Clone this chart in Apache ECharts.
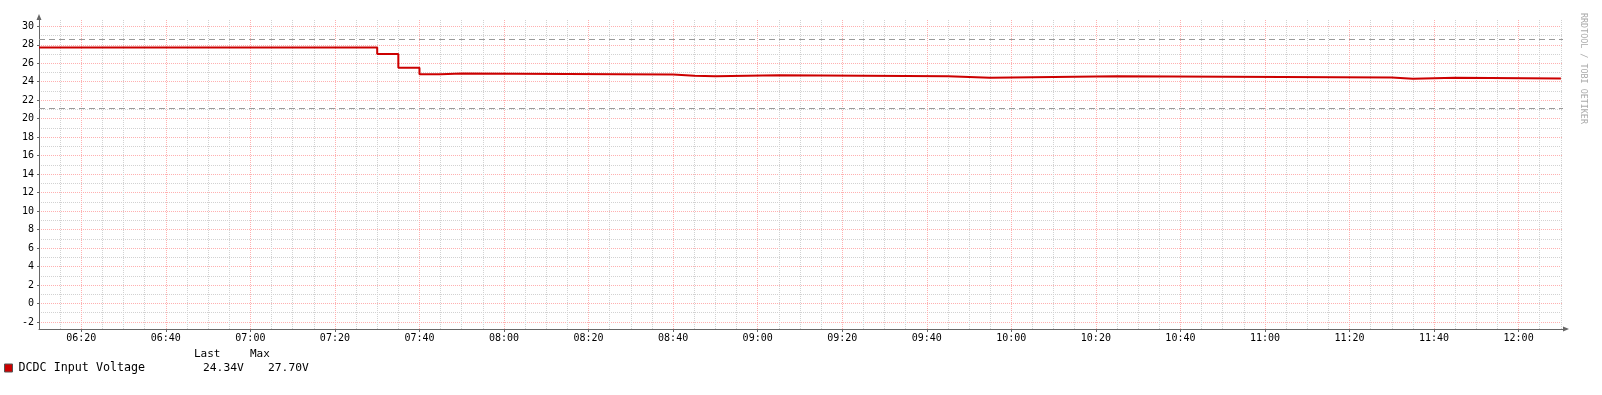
<!DOCTYPE html>
<html><head><meta charset="utf-8">
<script src="https://cdn.jsdelivr.net/npm/echarts@6/dist/echarts.min.js"></script>
<style>html,body{margin:0;padding:0;background:#fff}#c{width:1602px;height:395px}</style>
</head><body><div id="c"></div>
<script>
// ---- data ----
const seriesName = 'DCDC Input Voltage';
const stepTimes  = ['06:10','07:30','07:35','07:40','07:45','07:50','08:40','08:45','08:50','09:05','09:45','09:55','10:25','11:30','11:35','11:45','12:10'];
const stepValues = [27.70, 27.00, 25.50, 24.80, 24.88, 24.78, 24.65, 24.58, 24.69, 24.58, 24.43, 24.58, 24.45, 24.32, 24.43, 24.34, 24.34];
const thresholds = [28.6, 21.1];
const yTickLabels = [-2,0,2,4,6,8,10,12,14,16,18,20,22,24,26,28,30];
const xTickLabels = ['06:20','06:40','07:00','07:20','07:40','08:00','08:20','08:40','09:00','09:20','09:40','10:00','10:20','10:40','11:00','11:20','11:40','12:00'];
const xRange = ['06:10','12:10:30'];
const yRange = [-2.76, 30.68];
const legendHeads = ['Last','Max'];
const creditText = 'RRDTOOL / TOBI OETIKER';

// ---- helpers ----
function toMin(s){const p=s.split(':').map(Number);return p[0]*60+p[1]+(p[2]||0)/60;}
function fmt(m){const h=Math.floor(m/60),mm=Math.round(m-h*60);return String(h).padStart(2,'0')+':'+String(mm).padStart(2,'0');}
const xMin=toMin(xRange[0]), xMax=toMin(xRange[1]);
const xLabelVals=xTickLabels.map(toMin);
const xGridVals=[]; for(let m=Math.ceil(xMin/5)*5; m<=xMax; m+=5){ if(m>xMin) xGridVals.push(m); }
const xGridColors=xGridVals.map(m=> m%20===0 ? '#ffb0b0' : '#d2d2d2');
const yGridVals=[]; for(let v=Math.ceil(yRange[0]); v<=Math.floor(yRange[1]); v++) yGridVals.push(v);
const yGridColors=yGridVals.map(v=> v%2===0 ? '#ffb0b0' : '#d2d2d2');
const data=stepTimes.map((t,i)=>[toMin(t),stepValues[i]]);
const lastVal=stepValues[stepValues.length-1], maxVal=Math.max(...stepValues);

const FONT='"DejaVu Sans Mono", monospace';
const axisColor='#666';
const chart=echarts.init(document.getElementById('c'),null,{renderer:'canvas'});
chart.setOption({
  animation:false,
  backgroundColor:'#fff',
  grid:{left:39,right:39,top:20,bottom:66,containLabel:false},
  xAxis:[{
    type:'value',min:xMin,max:xMax,position:'bottom',
    axisLine:{show:true,onZero:false,lineStyle:{color:axisColor,width:1},symbol:['none','triangle'],symbolSize:[5,6],symbolOffset:[0,3]},
    axisTick:{show:true,customValues:xLabelVals,length:3,lineStyle:{color:axisColor}},
    axisLabel:{customValues:xLabelVals,formatter:v=>fmt(v),fontFamily:FONT,fontSize:10,color:'#000',margin:4},
    splitLine:{show:false}
  },{
    type:'value',min:xMin,max:xMax,position:'top',
    axisLine:{show:false,onZero:false},axisLabel:{show:false},
    axisTick:{show:false,customValues:xGridVals},
    splitLine:{show:true,lineStyle:{color:xGridColors,type:[1,1],width:1}}
  }],
  yAxis:[{
    type:'value',min:yRange[0],max:yRange[1],position:'left',
    axisLine:{show:true,onZero:false,lineStyle:{color:axisColor,width:1},symbol:['none','triangle'],symbolSize:[5,6],symbolOffset:[0,3]},
    axisTick:{show:true,customValues:yTickLabels,length:2,lineStyle:{color:axisColor}},
    axisLabel:{customValues:yTickLabels,fontFamily:FONT,fontSize:10,color:'#000',margin:5},
    splitLine:{show:false}
  },{
    type:'value',min:yRange[0],max:yRange[1],position:'right',
    axisLine:{show:false,onZero:false},axisLabel:{show:false},
    axisTick:{show:false,customValues:yGridVals},
    splitLine:{show:true,lineStyle:{color:yGridColors,type:[1,1],width:1}}
  }],
  legend:{
    show:true,left:4,top:362,padding:0,itemWidth:8,itemHeight:8,itemGap:10,
    data:[{name:seriesName,icon:'rect'}],
    itemStyle:{borderColor:'#555',borderWidth:1},
    textStyle:{fontFamily:FONT,fontSize:11.7,color:'#000',padding:[0,0,0,1]}
  },
  series:[{
    name:seriesName,type:'line',step:'end',data:data,showSymbol:false,
    xAxisIndex:0,yAxisIndex:0,
    lineStyle:{color:'#cc0000',width:2},itemStyle:{color:'#cc0000'},
    z:5,
    markLine:{silent:true,symbol:'none',label:{show:false},
      lineStyle:{color:'#999',type:[6,4],width:1},
      data:thresholds.map(v=>({yAxis:v}))}
  }],
  graphic:[
    {type:'text',x:194,y:354,style:{text:legendHeads[0],font:'11px '+FONT,fill:'#000',textVerticalAlign:'middle',verticalAlign:'middle'}},
    {type:'text',x:250,y:354,style:{text:legendHeads[1],font:'11px '+FONT,fill:'#000',textVerticalAlign:'middle',verticalAlign:'middle'}},
    {type:'text',x:203,y:368,style:{text:lastVal.toFixed(2)+'V',font:'11.3px '+FONT,fill:'#000',textVerticalAlign:'middle',verticalAlign:'middle'}},
    {type:'text',x:268,y:368,style:{text:maxVal.toFixed(2)+'V',font:'11.3px '+FONT,fill:'#000',textVerticalAlign:'middle',verticalAlign:'middle'}},
    {type:'text',x:1583,y:13,rotation:-Math.PI/2,style:{text:creditText,font:'8.4px '+FONT,fill:'#aaa',textAlign:'left',align:'left',textVerticalAlign:'middle',verticalAlign:'middle'}}
  ]
});
</script></body></html>
